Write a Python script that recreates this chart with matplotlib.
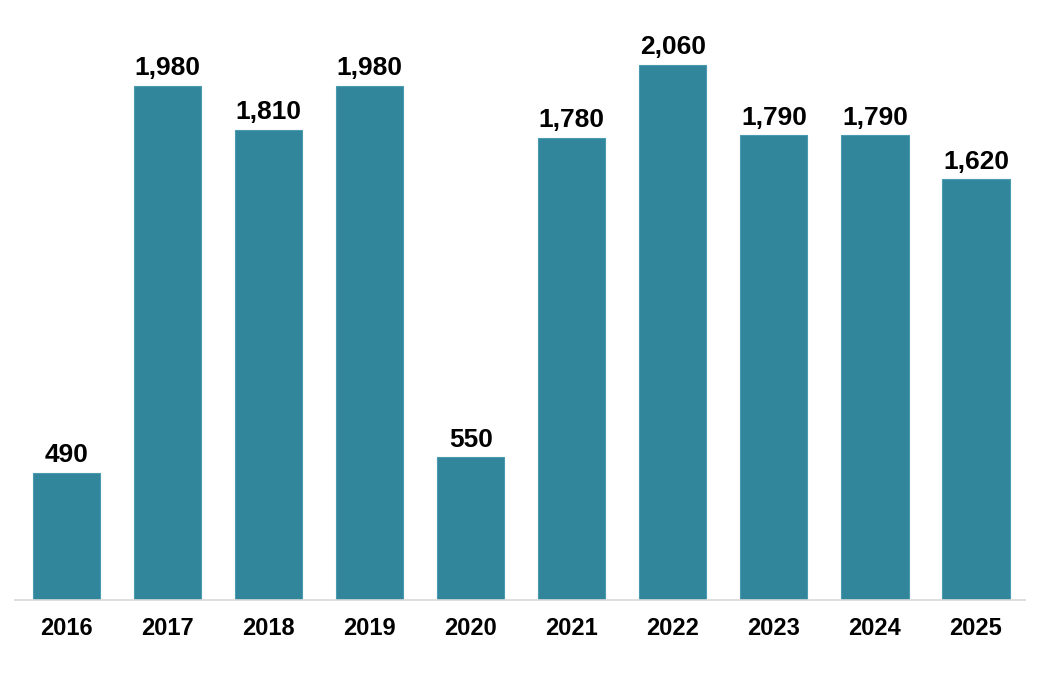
import matplotlib
matplotlib.use('Agg')
from matplotlib import pyplot as plt

years = ['2016', '2017', '2018', '2019', '2020', '2021', '2022', '2023', '2024', '2025']
values = [490, 1980, 1810, 1980, 550, 1780, 2060, 1790, 1790, 1620]

plt.rcParams['font.family'] = ['Liberation Sans', 'DejaVu Sans']

fig = plt.figure(figsize=(10.42, 6.81), dpi=100)
ax = fig.add_axes([15 / 1042, 81 / 681, (1025 - 15) / 1042, 600 / 681])

x = range(len(years))
bars = ax.bar(x, values, width=0.665, color='#31869b', edgecolor='#4a9ab0', linewidth=0.8)

for bar, v in zip(bars, values):
    ax.annotate(f"{v:,}", (bar.get_x() + bar.get_width() / 2, v),
                xytext=(0, 4), textcoords='offset points',
                ha='center', va='bottom', fontsize=19, fontweight='bold', color='black')

ax.set_xlim(-0.51, 9.485)
ax.set_ylim(0, 2310)
ax.set_xticks(list(x))
ax.set_xticklabels(years, fontsize=17, fontweight='bold')
ax.tick_params(axis='x', length=0, pad=12.5)
ax.set_yticks([])

for side in ['top', 'right', 'left']:
    ax.spines[side].set_visible(False)
ax.spines['bottom'].set_color('#d9d9d9')
ax.spines['bottom'].set_linewidth(1.2)

fig.savefig('out.png', dpi=100)
